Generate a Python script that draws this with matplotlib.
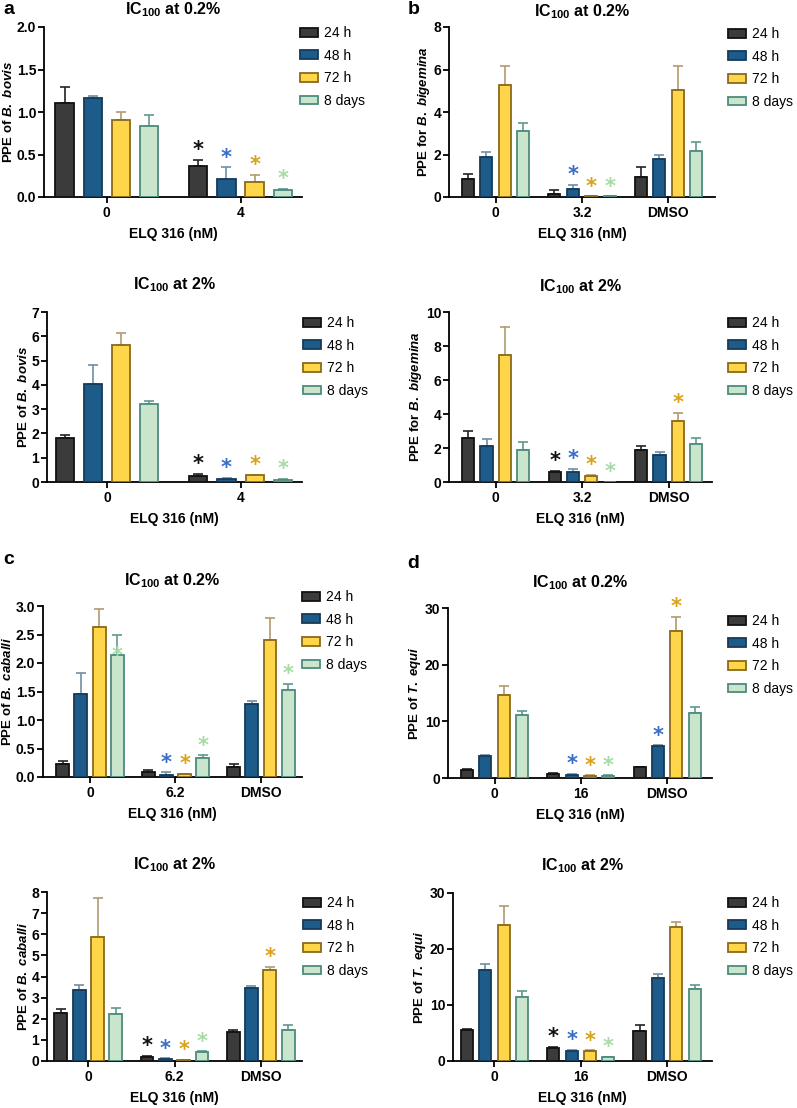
import numpy as np
import matplotlib
matplotlib.use("Agg")
import matplotlib.pyplot as plt

plt.rcParams['font.family'] = ['Liberation Sans', 'DejaVu Sans']
plt.rcParams['mathtext.fontset'] = 'custom'
plt.rcParams['mathtext.rm'] = 'Liberation Sans:bold'
plt.rcParams['mathtext.bf'] = 'Liberation Sans:bold'
plt.rcParams['mathtext.it'] = 'Liberation Sans:bold:italic'

W, H = 797, 1108

series_labels = ['24 h', '48 h', '72 h', '8 days']
fill_colors = ['#3b3b3b', '#1c5b8a', '#ffd54a', '#c9e6cc']
edge_colors = ['#111111', '#163a58', '#8a6a1c', '#4e8b7e']
err_colors = ['#222222', '#6f8fa6', '#b39a6e', '#5d9a8c']
star_colors = ['#111111', '#3a6cc6', '#d9a21b', '#a6dca4']

# ---- panel a, B. bovis ----
a_groups = ['0', '4']
a1_mean = [[1.11, 0.36], [1.16, 0.21], [0.91, 0.18], [0.83, 0.085]]
a1_sem = [[0.19, 0.075], [0.03, 0.14], [0.09, 0.08], [0.13, 0.015]]
a1_stars = [(1, 0), (1, 1), (1, 2), (1, 3)]

a2_mean = [[1.80, 0.23], [4.02, 0.14], [5.64, 0.27], [3.20, 0.10]]
a2_sem = [[0.12, 0.11], [0.81, 0.04], [0.49, 0.03], [0.14, 0.02]]
a2_stars = [(1, 0), (1, 1), (1, 2), (1, 3)]

# ---- panel b, B. bigemina ----
b_groups = ['0', '3.2', 'DMSO']
b1_mean = [[0.86, 0.16, 0.93], [1.87, 0.39, 1.77], [5.25, 0.03, 5.02], [3.12, 0.03, 2.18]]
b1_sem = [[0.24, 0.15, 0.47], [0.23, 0.19, 0.21], [0.90, 0.0, 1.13], [0.36, 0.0, 0.42]]
b1_stars = [(1, 1), (1, 2), (1, 3)]

b2_mean = [[2.61, 0.59, 1.90], [2.14, 0.57, 1.59], [7.45, 0.35, 3.59], [1.90, 0.02, 2.22]]
b2_sem = [[0.39, 0.06, 0.20], [0.41, 0.21, 0.19], [1.67, 0.08, 0.47], [0.45, 0.0, 0.39]]
b2_stars = [(1, 0), (1, 1), (1, 2), (1, 3), (2, 2)]

# ---- panel c, B. caballi ----
c_groups = ['0', '6.2', 'DMSO']
c1_mean = [[0.22, 0.09, 0.17], [1.45, 0.04, 1.28], [2.63, 0.05, 2.41], [2.14, 0.33, 1.52]]
c1_sem = [[0.06, 0.04, 0.05], [0.38, 0.04, 0.05], [0.32, 0.01, 0.38], [0.36, 0.05, 0.11]]
c1_stars = [(1, 1), (1, 2), (1, 3), (2, 3)]
c1_star_on_bar = [(0, 3)]

c2_mean = [[2.29, 0.19, 1.38], [3.37, 0.11, 3.44], [5.88, 0.06, 4.30], [2.23, 0.42, 1.46]]
c2_sem = [[0.17, 0.05, 0.11], [0.22, 0.02, 0.09], [1.85, 0.0, 0.15], [0.30, 0.03, 0.23]]
c2_stars = [(1, 0), (1, 1), (1, 2), (1, 3), (2, 2)]

# ---- panel d, T. equi ----
d_groups = ['0', '16', 'DMSO']
d1_mean = [[1.47, 0.70, 1.88], [3.82, 0.60, 5.60], [14.6, 0.40, 26.0], [11.2, 0.35, 11.5]]
d1_sem = [[0.18, 0.12, 0.12], [0.30, 0.10, 0.16], [1.6, 0.05, 2.4], [0.7, 0.12, 1.0]]
d1_stars = [(1, 1), (1, 2), (1, 3), (2, 1), (2, 2)]

d2_mean = [[5.55, 2.35, 5.30], [16.3, 1.82, 14.8], [24.2, 1.82, 23.9], [11.5, 0.65, 12.8]]
d2_sem = [[0.15, 0.12, 1.2], [1.0, 0.12, 0.8], [3.4, 0.06, 1.0], [1.0, 0.11, 0.7]]
d2_stars = [(1, 0), (1, 1), (1, 2), (1, 3)]


fig = plt.figure(figsize=(W / 100, H / 100), dpi=100)


def make_ax(left, right, top, bottom):
    return fig.add_axes([left / W, 1 - bottom / H, (right - left) / W, (bottom - top) / H])


def draw_panel(ax, groups, means, sems, stars, yticks, fmt, ylabel, title, title_pad,
               xlim, step, width, legend_at, star_on_bar=()):
    x = np.arange(len(groups))
    for i in range(4):
        xs = x + (i - 1.5) * step
        ax.bar(xs, means[i], width, color=fill_colors[i], edgecolor=edge_colors[i],
               linewidth=1.3, label=series_labels[i], zorder=3)
        yerr = [np.zeros(len(groups)), np.array(sems[i])]
        ax.errorbar(xs, means[i], yerr=yerr, fmt='none', ecolor=err_colors[i],
                    elinewidth=1.2, capsize=3.5, capthick=1.2, zorder=2)
    for g, i in stars:
        xs = g + (i - 1.5) * step
        ytop = means[i][g] + sems[i][g]
        ax.annotate('*', (xs, ytop), xytext=(0, 7), textcoords='offset points',
                    ha='center', va='center', fontsize=15, fontweight='bold',
                    color=star_colors[i], family='DejaVu Sans', zorder=5)
    for g, i in star_on_bar:
        xs = g + (i - 1.5) * step
        ax.annotate('*', (xs, means[i][g]), xytext=(0, -1), textcoords='offset points',
                    ha='center', va='center', fontsize=15, fontweight='bold',
                    color=star_colors[i], family='DejaVu Sans', zorder=5)
    ax.set_xlim(*xlim)
    ax.set_ylim(0, yticks[-1])
    ax.set_yticks(yticks)
    ax.set_yticklabels([fmt.format(v) for v in yticks])
    ax.set_xticks(x)
    ax.set_xticklabels(groups)
    for s in ['top', 'right']:
        ax.spines[s].set_visible(False)
    for s in ['left', 'bottom']:
        ax.spines[s].set_linewidth(1.3)
    ax.tick_params(axis='both', width=1.3, length=4, labelsize=10, pad=1.5)
    ax.tick_params(axis='x', pad=2.5)
    for lab in ax.get_xticklabels() + ax.get_yticklabels():
        lab.set_fontweight('bold')
    ax.set_ylabel(ylabel, fontsize=9.5, fontweight='bold', labelpad=1.5)
    ax.set_xlabel('ELQ 316 (nM)', fontsize=10, fontweight='bold', labelpad=5)
    ax.set_title(title, fontsize=11.5, fontweight='bold', pad=title_pad)
    ax.legend(loc='upper left', bbox_to_anchor=(legend_at[0] / W, 1 - legend_at[1] / H),
              bbox_transform=fig.transFigure, frameon=False, borderaxespad=0, borderpad=0,
              fontsize=10, handlelength=1.3, handleheight=0.6, handletextpad=0.45,
              labelspacing=0.62)


t02 = r'IC$_{100}$ at 0.2%'
t2 = r'IC$_{100}$ at 2%'

ax = make_ax(44, 302, 27, 197)
draw_panel(ax, a_groups, a1_mean, a1_sem, a1_stars, [0, 0.5, 1.0, 1.5, 2.0], '{:.1f}',
           r'PPE of $\mathit{B.\ bovis}$', t02, 9, (-0.47, 1.46), 0.211, 0.137, (300, 26))

ax = make_ax(47, 302, 312, 482)
draw_panel(ax, a_groups, a2_mean, a2_sem, a2_stars, [0, 1, 2, 3, 4, 5, 6, 7], '{:d}',
           r'PPE of $\mathit{B.\ bovis}$', t2, 16, (-0.45, 1.46), 0.211, 0.137, (303, 316))

ax = make_ax(449, 715, 27, 197)
draw_panel(ax, b_groups, b1_mean, b1_sem, b1_stars, [0, 2, 4, 6, 8], '{:d}',
           r'PPE for $\mathit{B.\ bigemina}$', t02, 8, (-0.54, 2.54), 0.213, 0.14, (728, 27))

ax = make_ax(449, 712, 312, 482)
draw_panel(ax, b_groups, b2_mean, b2_sem, b2_stars, [0, 2, 4, 6, 8, 10], '{:d}',
           r'PPE for $\mathit{B.\ bigemina}$', t2, 15, (-0.54, 2.5), 0.213, 0.14, (728, 316))

ax = make_ax(43, 302, 606, 777)
draw_panel(ax, c_groups, c1_mean, c1_sem, c1_stars, [0, 0.5, 1.0, 1.5, 2.0, 2.5, 3.0], '{:.1f}',
           r'PPE of $\mathit{B.\ caballi}$', t02, 15, (-0.55, 2.48), 0.213, 0.15, (302, 590),
           star_on_bar=c1_star_on_bar)

ax = make_ax(47, 302, 892, 1061)
draw_panel(ax, c_groups, c2_mean, c2_sem, c2_stars, [0, 1, 2, 3, 4, 5, 6, 7, 8], '{:d}',
           r'PPE of $\mathit{B.\ caballi}$', t2, 16, (-0.48, 2.48), 0.213, 0.15, (303, 896))

ax = make_ax(448, 712, 608, 778)
draw_panel(ax, d_groups, d1_mean, d1_sem, d1_stars, [0, 10, 20, 30], '{:d}',
           r'PPE of $\mathit{T.\ equi}$', t02, 15, (-0.54, 2.52), 0.213, 0.14, (728, 614))

ax = make_ax(453, 712, 893, 1061)
draw_panel(ax, d_groups, d2_mean, d2_sem, d2_stars, [0, 10, 20, 30], '{:d}',
           r'PPE of $\mathit{T.\ equi}$', t2, 16, (-0.48, 2.52), 0.213, 0.14, (728, 896))

for letter, px, py in [('a', 3, 9), ('b', 408, 9), ('c', 3, 560), ('d', 407, 564)]:
    fig.text(px / W, 1 - py / H, letter, fontsize=14, fontweight='bold', va='center', ha='left')

fig.savefig('out.png', dpi=100)
